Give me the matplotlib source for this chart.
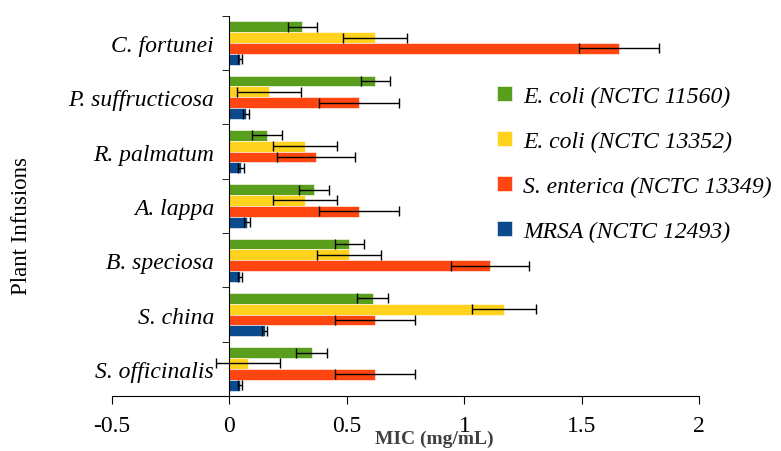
import numpy as np
import matplotlib
matplotlib.use('Agg')
from matplotlib import pyplot as plt

plants = ['C. fortunei', 'P. suffructicosa', 'R. palmatum', 'A. lappa',
          'B. speciosa', 'S. china', 'S. officinalis']
strains = ['E. coli (NCTC 11560)', 'E. coli (NCTC 13352)',
           'S. enterica (NCTC 13349)', 'MRSA (NCTC 12493)']

# MIC means (mg/mL), one list per strain, in plant order
ecoli_11560 = [0.31, 0.62, 0.16, 0.36, 0.51, 0.61, 0.35]
ecoli_13352 = [0.62, 0.17, 0.32, 0.32, 0.51, 1.17, 0.08]
senterica = [1.66, 0.55, 0.37, 0.55, 1.11, 0.62, 0.62]
mrsa = [0.045, 0.07, 0.05, 0.075, 0.045, 0.15, 0.045]

# error bars
ecoli_11560_err = [0.062, 0.062, 0.065, 0.065, 0.062, 0.066, 0.065]
ecoli_13352_err = [0.136, 0.136, 0.136, 0.136, 0.136, 0.136, 0.136]
senterica_err = [0.17, 0.17, 0.166, 0.17, 0.166, 0.17, 0.17]
mrsa_err = [0.01, 0.014, 0.012, 0.012, 0.01, 0.01, 0.01]

colors = ['#5a9e1e', '#ffd21e', '#ff4510', '#0b4a8c']

serif = 'Liberation Serif'

fig = plt.figure(figsize=(7.81, 4.52), dpi=100)
ax = fig.add_axes([0.1434, 0.1217, 0.752, 0.841])

# spine first: set_position resets the tick objects
ax.spines['left'].set_position(('data', 0))
ax.spines['right'].set_visible(False)
ax.spines['top'].set_visible(False)

series = [ecoli_11560, ecoli_13352, senterica, mrsa]
errs = [ecoli_11560_err, ecoli_13352_err, senterica_err, mrsa_err]
y = np.arange(len(plants))
h = 0.2
for k in range(4):
    pos = y - 0.3 + k * h
    ax.barh(pos, series[k], height=h, color=colors[k], label=strains[k],
            edgecolor='white', linewidth=0.4,
            xerr=errs[k], error_kw=dict(ecolor='black', elinewidth=1,
                                        capsize=3.5, capthick=1))

ax.set_xlim(-0.5, 2)
ax.set_ylim(len(plants) - 0.5, -0.5)
ax.set_xticks([-0.5, 0, 0.5, 1, 1.5, 2])
ax.set_xticklabels(['-0.5', '0', '0.5', '1', '1.5', '2'], family=serif,
                   fontsize=17)
ax.set_yticks(y)
ax.set_yticklabels(plants, family=serif, style='italic', fontsize=17)
ax.set_yticks(np.arange(len(plants) + 1) - 0.5, minor=True)
ax.tick_params(axis='y', which='major', length=0, pad=11)
ax.tick_params(axis='y', which='minor', length=5, direction='out')
ax.tick_params(axis='x', length=6, direction='out', pad=8)

ax.set_xlabel('MIC (mg/mL)', family=serif, fontweight='bold', fontsize=14,
              color='#404040')
ax.xaxis.set_label_coords(0.549, -0.088)
fig.text(0.027, 0.5, 'Plant Infusions', family=serif, fontsize=16.5,
         rotation=90, va='center', ha='center')

leg = ax.legend(loc='upper left', bbox_to_anchor=(0.62, 0.873), frameon=False,
                prop=dict(family=serif, style='italic', size=17),
                handlelength=0.6, handleheight=0.6, labelspacing=1.02,
                handletextpad=0.5)

plt.savefig('out.png', dpi=100)
